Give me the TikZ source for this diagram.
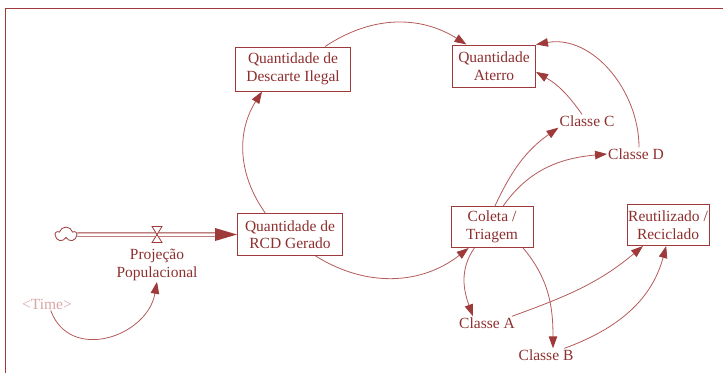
\documentclass[tikz,border=0pt]{standalone}
\usepackage{fontspec}
\setmainfont{Liberation Serif}
\usetikzlibrary{arrows.meta,shapes.symbols}
\definecolor{vred}{HTML}{9E3A3A}
\definecolor{vline}{HTML}{B45A5A}
\definecolor{vtext}{HTML}{8E2F2F}
\definecolor{vpink}{HTML}{D8A4A4}

\begin{document}
\begin{tikzpicture}[x=1pt,y=1pt,
    every node/.style={font=\fontsize{15.5}{17.5}\selectfont, text=vtext},
    stock/.style={draw=vred, line width=1pt, fill=white, align=center,
        inner sep=1pt, minimum height=41pt},
    aux/.style={inner sep=1pt, align=center},
    link/.style={draw=vline, line width=0.8pt,
        -{Triangle[length=12pt,width=8.5pt,color=vred]}}]
            \useasboundingbox (0,0) rectangle (723,-373);

            \draw[vred, line width=1pt]
                (5,-373) -- (5,-8) -- (723,-8);

            \node[stock, minimum width=115pt, minimum height=44pt] (descarte) at (293,-69) {Quantidade de\\Descarte Ilegal};
            \node[stock, minimum width=83pt, minimum height=42pt] (aterro) at (494,-66) {Quantidade\\Aterro};
            \node[stock, minimum width=105pt, minimum height=42pt] (rcd) at (290,-234.5) {Quantidade de\\RCD Gerado};
            \node[stock, minimum width=82pt] (coleta) at (492,-227) {Coleta /\\Triagem};
            \node[stock, minimum width=82pt] (reuso) at (668,-225) {Reutilizado /\\Reciclado};

            \node[aux] (ca) at (487,-323) {Classe A};
            \node[aux] (cb) at (546,-355) {Classe B};
            \node[aux] (cc) at (587,-121) {Classe C};
            \node[aux] (cd) at (636,-154) {Classe D};
            \node[aux, text=vpink] (time) at (47,-304) {<Time>};
            \node[aux] (proj) at (157,-265) {Projeção\\Populacional};

            \node[cloud, cloud puffs=5, draw=vred, line width=0.8pt, fill=white,
                minimum width=21pt, minimum height=15pt, inner sep=0pt] (src) at (66,-234.5) {};
            \coordinate (valve) at (157,-234.5);

            \draw[vred, line width=0.8pt, double=white, double distance=2.5pt]
                (src.east) -- ([xshift=-20pt]rcd.west);
            \fill[vred]
                (rcd.west) -- ++(-22,6.5) -- ++(0,-13) -- cycle;
            \draw[vred, line width=0.8pt, fill=white]
                ([shift={(-5,8)}]valve) -- ++(10,0) -- ++(-10,-16) -- ++(10,0) -- cycle;

            \draw[link] (descarte.35) to[bend left=33] (aterro.142);
            \draw[link] (rcd.139) to[bend left=34] (descarte.216);
            \draw[link] (rcd.320) to[bend right=35] (coleta.222);
            \draw[link] (coleta.82) to[out=65, in=215] (cc.south west);
            \draw[link] (coleta.62) to[out=55, in=185] (cd.west);
            \draw[link] ([xshift=-5pt]cc.north) to[out=125, in=-30] (aterro.352);
            \draw[link] ([xshift=3pt]cd.north) to[out=90, in=10] (aterro.north east);
            \draw[link] (coleta.230) to[out=235, in=110] ([xshift=-14pt]ca.north);
            \draw[link] (coleta.326) to[out=-50, in=90] ([xshift=7pt]cb.north);
            \draw[link] (ca.15) to[out=20, in=220] (reuso.220);
            \draw[link] (cb.20) to[out=20, in=255] (reuso.265);
            \draw[link] (time.-60) to[out=-70, in=-100, looseness=1.3] (proj.south);
        \end{tikzpicture}
\end{document}
